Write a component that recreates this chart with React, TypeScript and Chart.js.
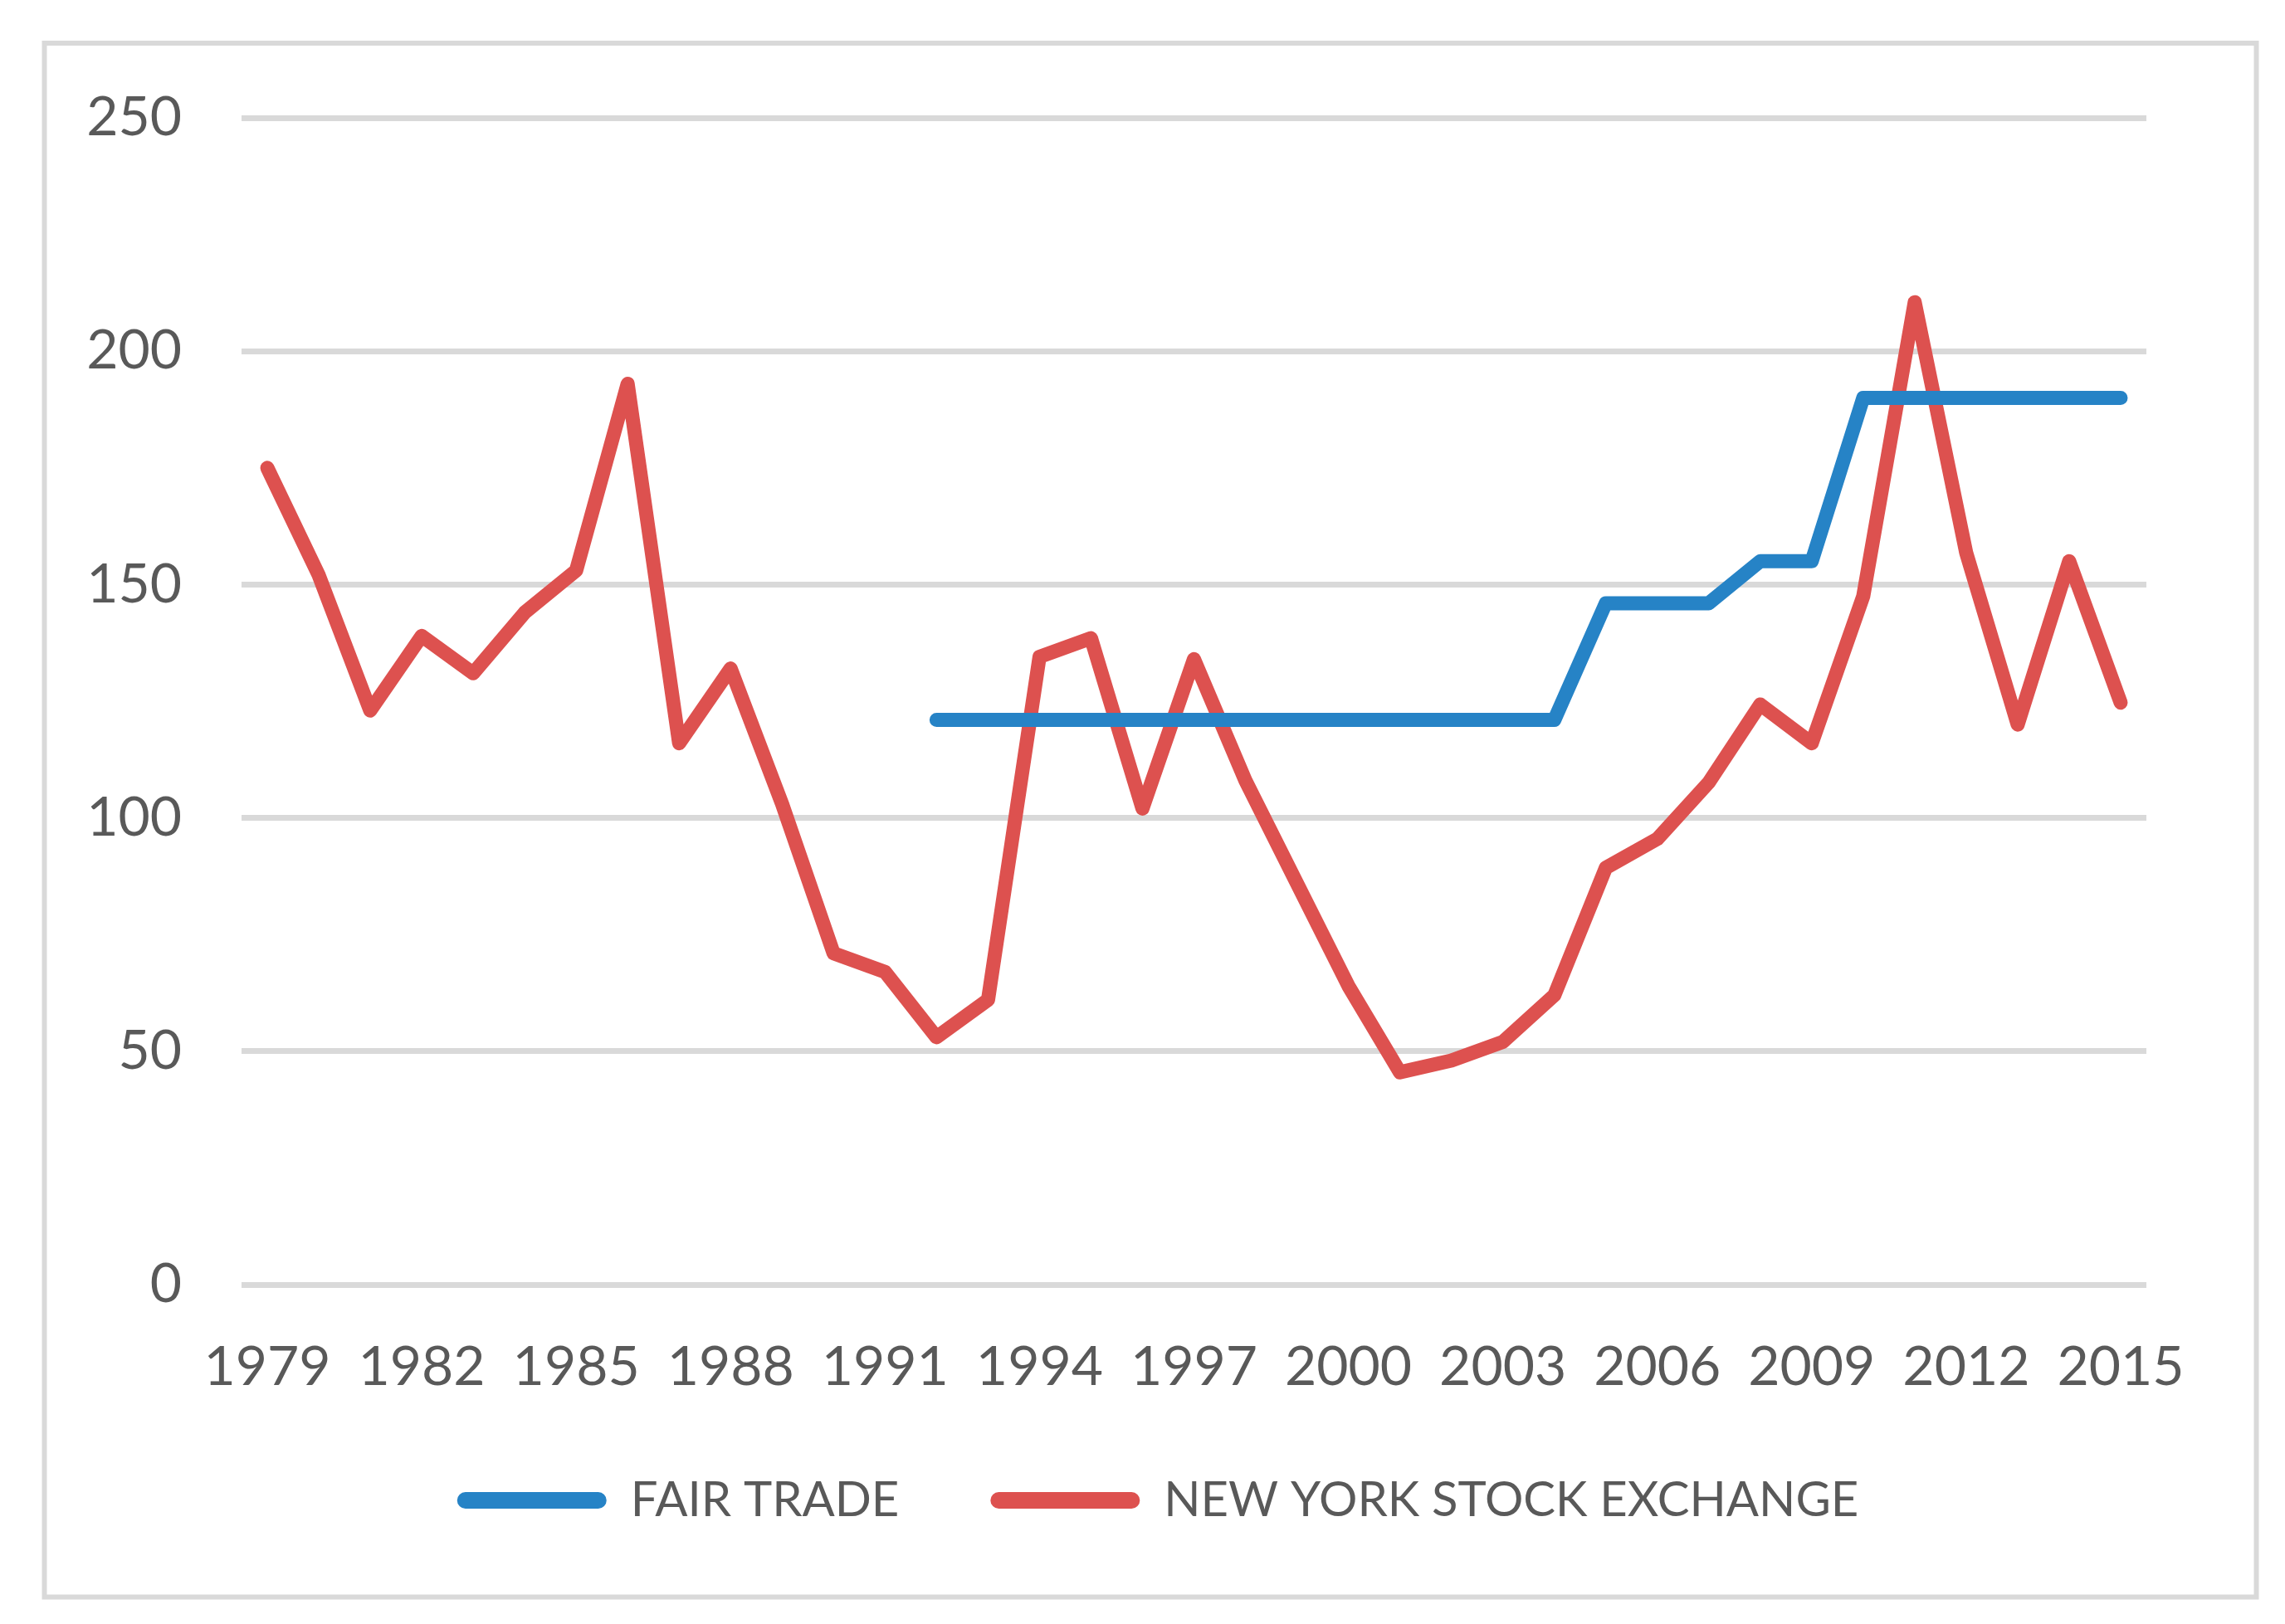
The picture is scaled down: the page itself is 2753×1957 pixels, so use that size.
import React, { useEffect, useRef } from "react";
import { Chart, registerables } from "chart.js";

Chart.register(...registerables);

const years: string[] = [
  "1979", "1980", "1981", "1982", "1983", "1984", "1985", "1986", "1987", "1988",
  "1989", "1990", "1991", "1992", "1993", "1994", "1995", "1996", "1997", "1998",
  "1999", "2000", "2001", "2002", "2003", "2004", "2005", "2006", "2007", "2008",
  "2009", "2010", "2011", "2012", "2013", "2014", "2015",
];

const fairTrade: (number | null)[] = [
  null, null, null, null, null, null, null, null, null, null,
  null, null, null, 121, 121, 121, 121, 121, 121, 121,
  121, 121, 121, 121, 121, 121, 146, 146, 146, 155,
  155, 190, 190, 190, 190, 190, 190,
];

const nyse: number[] = [
  175, 152, 123, 139, 131, 144, 153, 193, 116, 132,
  103, 71, 67, 53, 61, 134.5, 138.5, 102, 134, 108,
  86, 64, 45.5, 48, 52, 62, 89.3, 95.5, 107.6, 124.3,
  116, 147.5, 210.5, 156.8, 120, 155, 124.7,
];

const yTicks: number[] = [0, 50, 100, 150, 200, 250];

const BLUE = "#2683C6";
const RED = "#DD514F";
const TEXT = "#595959";
const GRID = "#D9D9D9";
const FONT = "Lato, 'Open Sans', sans-serif";

const W = 2753;
const H = 1957;

const borderPlugin = {
  id: "outerBorder",
  beforeDraw(chart: any) {
    const ctx = chart.ctx;
    ctx.save();
    ctx.fillStyle = "#ffffff";
    ctx.fillRect(0, 0, chart.width, chart.height);
    ctx.strokeStyle = GRID;
    ctx.lineWidth = 6;
    ctx.strokeRect(53.5, 52, 2665, 1872.5);
    ctx.restore();
  },
};

export default function App() {
  const ref = useRef<HTMLCanvasElement | null>(null);

  useEffect(() => {
    if (!ref.current) return;
    const chart = new Chart(ref.current, {
      type: "line",
      data: {
        labels: years,
        datasets: [
          {
            label: "FAIR TRADE",
            data: fairTrade,
            borderColor: BLUE,
            backgroundColor: BLUE,
            borderWidth: 17,
            pointRadius: 0,
            tension: 0,
            borderJoinStyle: "round",
            borderCapStyle: "round",
            spanGaps: false,
          },
          {
            label: "NEW YORK STOCK EXCHANGE",
            data: nyse,
            borderColor: RED,
            backgroundColor: RED,
            borderWidth: 17,
            pointRadius: 0,
            tension: 0,
            borderJoinStyle: "round",
            borderCapStyle: "round",
          },
        ],
      },
      options: {
        responsive: false,
        animation: false,
        devicePixelRatio: 1,
        layout: {
          padding: { left: 50, right: 13, top: 142, bottom: 110 },
        },
        plugins: {
          tooltip: { enabled: false },
          legend: {
            position: "bottom",
            labels: {
              font: { family: FONT, size: 58 },
              color: TEXT,
              boxWidth: 180,
              boxHeight: 20,
              padding: 110,
              useBorderRadius: true,
              borderRadius: 10,
              generateLabels: (c: any) =>
                c.data.datasets.map((ds: any, i: number) => ({
                  text: ds.label,
                  fillStyle: ds.borderColor,
                  strokeStyle: ds.borderColor,
                  lineWidth: 0,
                  borderRadius: 10,
                  fontColor: TEXT,
                  hidden: false,
                  datasetIndex: i,
                })),
            },
          },
        },
        scales: {
          x: {
            offset: true,
            grid: { display: false, drawTicks: false },
            border: { display: false },
            ticks: {
              autoSkip: false,
              maxRotation: 0,
              minRotation: 0,
              padding: 60,
              color: TEXT,
              font: { family: FONT, size: 66 },
              callback: function (_v: any, i: number) {
                return i % 3 === 0 ? years[i] : "";
              },
            },
            afterFit: (s: any) => {
              s.height = 121;
              s._computeLabelArea = () => undefined;
            },
          },
          y: {
            min: 0,
            max: 250,
            grid: { color: GRID, lineWidth: 7, drawTicks: false },
            border: { display: false },
            afterBuildTicks: (s: any) => {
              s.ticks = yTicks.map((v) => ({ value: v }));
            },
            ticks: {
              padding: 72,
              color: TEXT,
              font: { family: FONT, size: 66 },
            },
            afterFit: (s: any) => {
              s.width = 241;
            },
          },
          yRight: {
            type: "linear",
            position: "right",
            display: true,
            grid: { display: false, drawTicks: false },
            border: { display: false },
            ticks: { display: false },
            afterFit: (s: any) => {
              s.width = 154;
            },
          },
        },
      },
      plugins: [borderPlugin],
    });
    return () => chart.destroy();
  }, []);

  return (
    <div style={{ position: "absolute", left: 0, top: 0, width: W, height: H }}>
      <canvas ref={ref} width={W} height={H} style={{ width: W, height: H, display: "block" }} />
    </div>
  );
}
